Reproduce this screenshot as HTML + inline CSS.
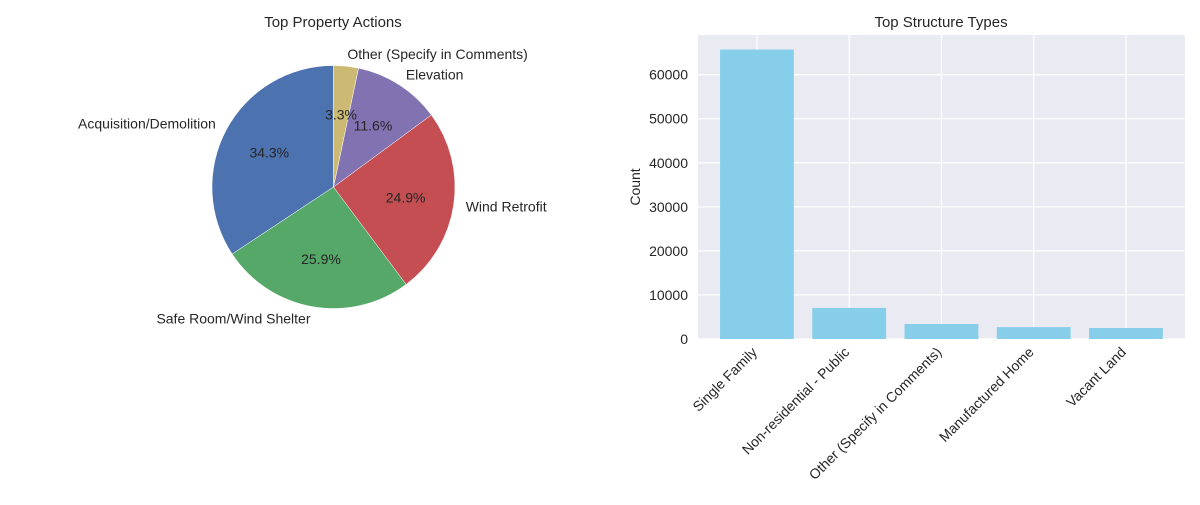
<!DOCTYPE html>
<html><head><meta charset="utf-8"><style>
body{margin:0;background:#fff;}
svg text{font-family:"Liberation Sans",Arial,sans-serif;fill:#262626;}
</style></head><body>
<svg id="chart" width="1200" height="500" xmlns="http://www.w3.org/2000/svg">
<text x="333" y="27" font-size="15" text-anchor="middle">Top Property Actions</text>
<g id="pie"></g>
<text x="941" y="27" font-size="15" text-anchor="middle">Top Structure Types</text>
<rect x="698" y="35" width="487" height="304" fill="#EAEAF2"/>
<g id="grid"></g>
<g id="bars"></g>
<g id="yticks"></g>
<g id="xticks"></g>
<text transform="translate(640,187) rotate(-90)" font-size="14" text-anchor="middle">Count</text>
</svg>
<script>
const pieLabels=["Acquisition/Demolition","Safe Room/Wind Shelter","Wind Retrofit","Elevation","Other (Specify in Comments)"];
const pieValues=[34.3,25.9,24.9,11.6,3.3];
const pieColors=["#4C72B0","#55A868","#C44E52","#8172B2","#CCB974"];
const barCats=["Single Family","Non-residential - Public","Other (Specify in Comments)","Manufactured Home","Vacant Land"];
const barValues=[65700,7050,3400,2700,2500];
const yTicks=[0,10000,20000,30000,40000,50000,60000];
const NS="http://www.w3.org/2000/svg";
function mk(t,a,p){const e=document.createElementNS(NS,t);for(const k in a)e.setAttribute(k,a[k]);p.appendChild(e);return e;}
// pie
const pie=document.getElementById('pie');
const cx=333.5,cy=187,R=121.5;
const tot=pieValues.reduce((a,b)=>a+b,0);
let ang=90;
pieValues.forEach((v,i)=>{
  const sweep=v/tot*360,a0=ang*Math.PI/180,a1=(ang+sweep)*Math.PI/180;
  const x0=cx+R*Math.cos(a0),y0=cy-R*Math.sin(a0),x1=cx+R*Math.cos(a1),y1=cy-R*Math.sin(a1);
  const p=mk('path',{d:`M${cx},${cy}L${x0},${y0}A${R},${R} 0 ${sweep>180?1:0} 0 ${x1},${y1}Z`,fill:pieColors[i],stroke:'#fff','stroke-width':0.5},pie);
  
  
  const m=(ang+sweep/2)*Math.PI/180,c=Math.cos(m),s=Math.sin(m);
  const l=mk('text',{x:cx+1.1*R*c,y:cy-1.1*R*s+5,'font-size':14,'text-anchor':c>=0?'start':'end'},pie);
  l.textContent=pieLabels[i];
  
  
  const t=mk('text',{x:cx+0.6*R*c,y:cy-0.6*R*s+5,'font-size':14,'text-anchor':'middle'},pie);
  t.textContent=v.toFixed(1)+'%';
  
  
  ang+=sweep;
});
// bars
const X0=698,W=487,Y0=339,H=304,ymax=69000;
const unit=92.25,xStart=701.6;
const xs=i=>xStart+(i+0.6)*unit;
const ys=v=>Y0-v/ymax*H;
const bw=0.8*unit;
const grid=document.getElementById('grid'),bars=document.getElementById('bars'),yt=document.getElementById('yticks'),xt=document.getElementById('xticks');
yTicks.forEach(t=>{
  const g=mk('line',{x1:X0,x2:X0+W,y1:ys(t),y2:ys(t),stroke:'#fff','stroke-width':1.2},grid);
  
  
  const l=mk('text',{x:X0-10,y:ys(t)+5,'font-size':14,'text-anchor':'end'},yt);
  l.textContent=t;
  
  
});
barCats.forEach((c,i)=>{
  const g=mk('line',{x1:xs(i),x2:xs(i),y1:35,y2:Y0,stroke:'#fff','stroke-width':1.2},grid);
  
  
});
barCats.forEach((c,i)=>{
  const b=mk('rect',{x:xs(i)-bw/2,y:ys(barValues[i]),width:bw,height:Y0-ys(barValues[i]),fill:'#87CEEB'},bars);
  
  
  const x=xs(i)+1,y=353;
  const l=mk('text',{x:x,y:y,'font-size':14,'text-anchor':'end',transform:`rotate(-45 ${x} ${y})`},xt);
  l.textContent=c;
  
  
});
</script>
</body></html>
